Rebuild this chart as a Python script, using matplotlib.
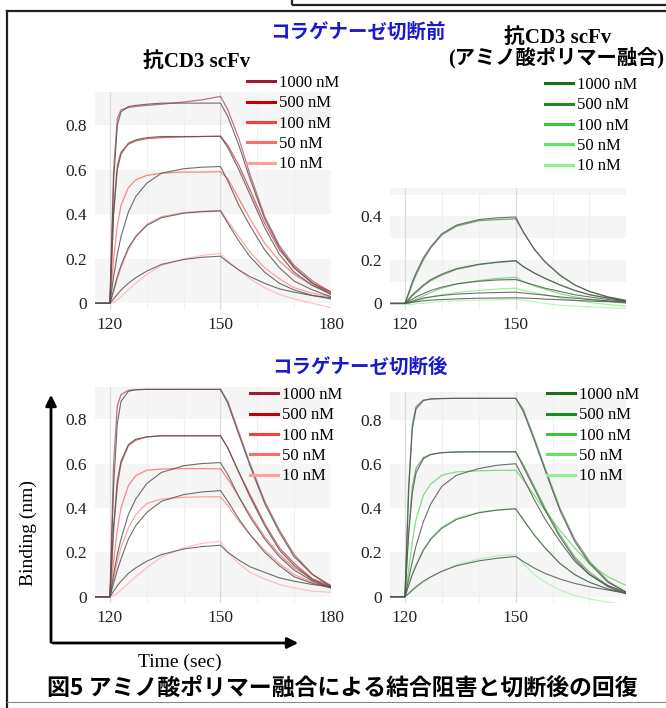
import matplotlib
matplotlib.use('Agg')
import matplotlib.pyplot as plt
from matplotlib.lines import Line2D
from matplotlib.patches import FancyArrowPatch, Rectangle

# 時間軸 (sec)
times = [116, 120, 121, 122, 123, 125, 127, 130, 134, 140, 145, 150,
         152, 155, 158, 162, 166, 170, 175, 180]
conc_labels = ['1000 nM', '500 nM', '100 nM', '50 nM', '10 nM']
red_colors = ['#9b1b30', '#c00000', '#ff3b3b', '#ff6b6b', '#ff9e9e']
green_colors = ['#1b6e1b', '#1f8a1f', '#38c738', '#5ee85e', '#8ff08f']

# コラゲナーゼ切断前 / 抗CD3 scFv
before_scfv_obs = [
    [0, 0, 0.60, 0.83, 0.87, 0.88, 0.885, 0.89, 0.895, 0.905, 0.915, 0.93, 0.87, 0.74, 0.58, 0.39, 0.26, 0.17, 0.10, 0.05],
    [0, 0, 0.42, 0.62, 0.68, 0.715, 0.73, 0.74, 0.745, 0.748, 0.75, 0.752, 0.71, 0.62, 0.51, 0.36, 0.24, 0.16, 0.09, 0.05],
    [0, 0, 0.20, 0.35, 0.44, 0.52, 0.555, 0.575, 0.585, 0.59, 0.59, 0.592, 0.56, 0.47, 0.38, 0.27, 0.19, 0.13, 0.08, 0.05],
    [0, 0, 0.05, 0.11, 0.16, 0.24, 0.30, 0.355, 0.39, 0.408, 0.414, 0.418, 0.37, 0.30, 0.23, 0.16, 0.11, 0.07, 0.045, 0.03],
    [0, 0, 0.005, 0.015, 0.03, 0.06, 0.09, 0.13, 0.17, 0.20, 0.215, 0.225, 0.19, 0.15, 0.11, 0.07, 0.04, 0.02, 0.0, -0.02],
]
before_scfv_fit = [
    [0, 0, 0.55, 0.80, 0.86, 0.885, 0.89, 0.895, 0.90, 0.90, 0.90, 0.90, 0.84, 0.71, 0.56, 0.38, 0.25, 0.16, 0.09, 0.04],
    [0, 0, 0.40, 0.60, 0.67, 0.72, 0.735, 0.745, 0.75, 0.75, 0.75, 0.75, 0.70, 0.60, 0.49, 0.34, 0.22, 0.14, 0.08, 0.04],
    [0, 0, 0.12, 0.22, 0.30, 0.41, 0.48, 0.54, 0.585, 0.605, 0.612, 0.615, 0.55, 0.44, 0.35, 0.24, 0.16, 0.10, 0.06, 0.03],
    [0, 0, 0.06, 0.12, 0.17, 0.25, 0.30, 0.35, 0.385, 0.405, 0.412, 0.415, 0.36, 0.28, 0.21, 0.14, 0.09, 0.06, 0.035, 0.02],
    [0, 0, 0.02, 0.04, 0.06, 0.09, 0.115, 0.145, 0.175, 0.197, 0.207, 0.212, 0.185, 0.15, 0.12, 0.09, 0.065, 0.05, 0.035, 0.025],
]

# コラゲナーゼ切断前 / アミノ酸ポリマー融合
before_fused_obs = [
    [0, 0, 0.04, 0.09, 0.13, 0.20, 0.255, 0.315, 0.355, 0.38, 0.385, 0.388, 0.33, 0.25, 0.19, 0.13, 0.085, 0.055, 0.03, 0.015],
    [0, 0, 0.015, 0.035, 0.05, 0.08, 0.105, 0.13, 0.157, 0.178, 0.188, 0.195, 0.17, 0.14, 0.115, 0.085, 0.06, 0.04, 0.025, 0.01],
    [0, 0, 0.005, 0.01, 0.02, 0.035, 0.05, 0.07, 0.09, 0.105, 0.115, 0.12, 0.10, 0.08, 0.065, 0.045, 0.03, 0.02, 0.01, 0.0],
    [0, 0, 0.0, 0.005, 0.01, 0.02, 0.03, 0.04, 0.05, 0.06, 0.066, 0.07, 0.06, 0.05, 0.04, 0.025, 0.015, 0.005, -0.005, -0.012],
    [0, 0, -0.005, -0.005, 0.0, 0.0, 0.005, 0.01, 0.012, 0.015, 0.017, 0.02, 0.015, 0.008, 0.0, -0.008, -0.012, -0.016, -0.02, -0.022],
]
before_fused_fit = [
    [0, 0, 0.05, 0.10, 0.14, 0.21, 0.26, 0.32, 0.36, 0.385, 0.393, 0.397, 0.33, 0.25, 0.19, 0.13, 0.085, 0.055, 0.03, 0.012],
    [0, 0, 0.02, 0.04, 0.055, 0.085, 0.11, 0.135, 0.16, 0.18, 0.19, 0.197, 0.17, 0.14, 0.115, 0.085, 0.06, 0.04, 0.025, 0.01],
    [0, 0, 0.01, 0.02, 0.03, 0.045, 0.06, 0.075, 0.09, 0.102, 0.108, 0.11, 0.10, 0.085, 0.07, 0.055, 0.04, 0.03, 0.018, 0.008],
    [0, 0, 0.005, 0.01, 0.015, 0.025, 0.03, 0.037, 0.043, 0.048, 0.05, 0.052, 0.048, 0.043, 0.038, 0.03, 0.024, 0.018, 0.012, 0.006],
    [0, 0, 0.002, 0.005, 0.008, 0.012, 0.015, 0.018, 0.021, 0.024, 0.025, 0.026, 0.025, 0.023, 0.02, 0.017, 0.014, 0.011, 0.008, 0.005],
]

# コラゲナーゼ切断後 / 抗CD3 scFv
after_scfv_obs = [
    [0, 0, 0.60, 0.86, 0.91, 0.93, 0.933, 0.934, 0.934, 0.934, 0.934, 0.934, 0.88, 0.74, 0.60, 0.43, 0.30, 0.19, 0.10, 0.05],
    [0, 0, 0.30, 0.50, 0.60, 0.68, 0.705, 0.72, 0.725, 0.725, 0.725, 0.725, 0.67, 0.56, 0.46, 0.33, 0.22, 0.15, 0.08, 0.045],
    [0, 0, 0.16, 0.30, 0.40, 0.50, 0.545, 0.57, 0.575, 0.577, 0.577, 0.576, 0.53, 0.45, 0.37, 0.27, 0.19, 0.13, 0.08, 0.05],
    [0, 0, 0.08, 0.16, 0.22, 0.31, 0.37, 0.42, 0.44, 0.448, 0.45, 0.45, 0.41, 0.34, 0.28, 0.21, 0.15, 0.10, 0.065, 0.04],
    [0, 0, 0.005, 0.015, 0.03, 0.06, 0.09, 0.13, 0.18, 0.22, 0.24, 0.25, 0.20, 0.15, 0.11, 0.08, 0.055, 0.04, 0.025, 0.02],
]
after_scfv_fit = [
    [0, 0, 0.50, 0.78, 0.88, 0.925, 0.932, 0.934, 0.934, 0.934, 0.934, 0.934, 0.87, 0.73, 0.59, 0.42, 0.29, 0.18, 0.10, 0.045],
    [0, 0, 0.32, 0.52, 0.61, 0.685, 0.71, 0.72, 0.725, 0.725, 0.725, 0.725, 0.67, 0.56, 0.45, 0.32, 0.21, 0.14, 0.075, 0.04],
    [0, 0, 0.10, 0.19, 0.26, 0.37, 0.44, 0.51, 0.56, 0.59, 0.60, 0.604, 0.55, 0.45, 0.36, 0.26, 0.18, 0.12, 0.07, 0.04],
    [0, 0, 0.06, 0.12, 0.17, 0.26, 0.32, 0.38, 0.43, 0.46, 0.472, 0.478, 0.43, 0.35, 0.28, 0.20, 0.14, 0.09, 0.06, 0.04],
    [0, 0, 0.025, 0.05, 0.07, 0.105, 0.13, 0.16, 0.19, 0.215, 0.226, 0.232, 0.20, 0.165, 0.135, 0.11, 0.085, 0.07, 0.055, 0.045],
]

# コラゲナーゼ切断後 / アミノ酸ポリマー融合
after_fused_obs = [
    [0, 0, 0.50, 0.78, 0.86, 0.89, 0.895, 0.897, 0.898, 0.898, 0.898, 0.898, 0.85, 0.72, 0.58, 0.40, 0.26, 0.16, 0.07, 0.02],
    [0, 0, 0.30, 0.50, 0.58, 0.63, 0.645, 0.652, 0.655, 0.656, 0.656, 0.656, 0.60, 0.50, 0.40, 0.28, 0.18, 0.11, 0.05, 0.015],
    [0, 0, 0.12, 0.25, 0.35, 0.46, 0.51, 0.55, 0.565, 0.57, 0.572, 0.572, 0.53, 0.46, 0.39, 0.30, 0.22, 0.15, 0.09, 0.05],
    [0, 0, 0.055, 0.105, 0.145, 0.215, 0.265, 0.315, 0.355, 0.382, 0.393, 0.398, 0.35, 0.28, 0.22, 0.15, 0.10, 0.065, 0.035, 0.015],
    [0, 0, 0.01, 0.025, 0.04, 0.065, 0.088, 0.115, 0.145, 0.17, 0.185, 0.19, 0.15, 0.10, 0.065, 0.03, 0.005, -0.01, -0.025, -0.035],
]
after_fused_fit = [
    [0, 0, 0.48, 0.76, 0.85, 0.888, 0.895, 0.897, 0.898, 0.898, 0.898, 0.898, 0.84, 0.71, 0.57, 0.39, 0.25, 0.15, 0.065, 0.02],
    [0, 0, 0.28, 0.47, 0.56, 0.625, 0.643, 0.652, 0.655, 0.656, 0.656, 0.656, 0.59, 0.49, 0.39, 0.27, 0.17, 0.10, 0.045, 0.012],
    [0, 0, 0.08, 0.16, 0.23, 0.34, 0.42, 0.50, 0.55, 0.58, 0.595, 0.602, 0.54, 0.44, 0.35, 0.25, 0.16, 0.10, 0.05, 0.02],
    [0, 0, 0.05, 0.10, 0.14, 0.21, 0.26, 0.31, 0.35, 0.38, 0.392, 0.398, 0.35, 0.28, 0.22, 0.15, 0.10, 0.065, 0.035, 0.015],
    [0, 0, 0.015, 0.03, 0.045, 0.07, 0.09, 0.115, 0.14, 0.162, 0.174, 0.182, 0.16, 0.13, 0.105, 0.08, 0.06, 0.045, 0.03, 0.015],
]

W, H = 666, 708
SERIF = ['Liberation Serif', 'Noto Sans CJK JP']
GOTHIC = ['Noto Sans CJK JP', 'DejaVu Sans']


def fx(px):
    return px / W


def fy(py):
    return 1 - py / H


def box(left, top, right, bottom):
    return [fx(left), fy(bottom), fx(right) - fx(left), fy(top) - fy(bottom)]


fig = plt.figure(figsize=(W / 100, H / 100), dpi=100)


def panel(rect, obs, fit, colors, ylim, yticks, ylabels, xticks, bands, legend_xy):
    ax = fig.add_axes(rect)
    for b0, b1 in bands:
        ax.axhspan(b0, b1, color='#f5f5f5', lw=0, zorder=0)
    for t in [130, 140, 160, 170]:
        ax.axvline(t, color='#f0f0f0', lw=0.8, zorder=0.5)
    for t in [120, 150]:
        ax.axvline(t, color='#dcdcdc', lw=0.9, zorder=0.5)
    for vals, c in zip(obs, colors):
        ax.plot(times, vals, color=c, lw=0.9, alpha=0.6, zorder=2)
    for vals in fit:
        ax.plot(times, vals, color='#555555', lw=0.8, alpha=0.85, zorder=3)
    ax.set_xlim(116, 180)
    ax.set_ylim(*ylim)
    ax.set_xticks(xticks)
    ax.set_xticklabels([str(t) for t in xticks])
    ax.set_yticks(yticks)
    ax.set_yticklabels(ylabels)
    ax.tick_params(length=0, labelsize=12.5, colors='#222222')
    ax.tick_params(axis='y', pad=6)
    ax.tick_params(axis='x', pad=5)
    for lab in ax.get_xticklabels() + ax.get_yticklabels():
        lab.set_family(SERIF)
    for s in ax.spines.values():
        s.set_visible(False)
    ax.set_facecolor('none')
    handles = [Line2D([0], [0], color=c, lw=2.2) for c in colors]
    fig.legend(handles, conc_labels, loc='upper left',
               bbox_to_anchor=legend_xy, bbox_transform=fig.transFigure,
               frameon=False, borderpad=0, borderaxespad=0,
               handlelength=1.7, handletextpad=0.2, labelspacing=0.26,
               prop={'family': SERIF, 'size': 12})
    return ax


lbl_full = ['0', '0.2', '0.4', '0.6', '0.8']
panel(box(95.2, 92, 331, 310), before_scfv_obs, before_scfv_fit, red_colors,
      (-0.03, 0.95), [0, 0.2, 0.4, 0.6, 0.8], lbl_full, [120, 150, 180],
      [(0, 0.2), (0.4, 0.6), (0.8, 1.0)], (fx(247), fy(75)))
panel(box(390.2, 188, 626.4, 310), before_fused_obs, before_fused_fit, green_colors,
      (-0.03, 0.53), [0, 0.2, 0.4], ['0', '0.2', '0.4'], [120, 150],
      [(0.1, 0.2), (0.3, 0.4), (0.5, 0.6)], (fx(545), fy(77)))
panel(box(95.2, 386.7, 331, 603.4), after_scfv_obs, after_scfv_fit, red_colors,
      (-0.03, 0.946), [0, 0.2, 0.4, 0.6, 0.8], lbl_full, [120, 150, 180],
      [(0, 0.2), (0.4, 0.6), (0.8, 1.0)], (fx(250), fy(387)))
panel(box(390.2, 391.7, 626.4, 603.3), after_fused_obs, after_fused_fit, green_colors,
      (-0.03, 0.928), [0, 0.2, 0.4, 0.6, 0.8], lbl_full, [120, 150],
      [(0, 0.2), (0.4, 0.6), (0.8, 1.0)], (fx(547), fy(387)))

# 見出し
fig.text(fx(358), fy(32), 'コラゲナーゼ切断前', color='#1a1acd', fontsize=14,
         fontweight='bold', family=GOTHIC, ha='center', va='center')
fig.text(fx(360), fy(367), 'コラゲナーゼ切断後', color='#1a1acd', fontsize=14,
         fontweight='bold', family=GOTHIC, ha='center', va='center')
fig.text(fx(197), fy(62), '抗CD3 scFv', fontsize=15, fontweight='bold',
         family=SERIF, ha='center', va='center')
fig.text(fx(558), fy(38), '抗CD3 scFv', fontsize=15, fontweight='bold',
         family=SERIF, ha='center', va='center')
fig.text(fx(664), fy(58), '(アミノ酸ポリマー融合)', fontsize=14.6, fontweight='bold',
         family=SERIF, ha='right', va='center')

# 軸の矢印とラベル
fig.add_artist(FancyArrowPatch((fx(51), fy(645)), (fx(51), fy(392)),
                               transform=fig.transFigure, arrowstyle='-|>',
                               mutation_scale=16, lw=2, color='black'))
fig.add_artist(FancyArrowPatch((fx(50), fy(643)), (fx(301), fy(643)),
                               transform=fig.transFigure, arrowstyle='-|>',
                               mutation_scale=16, lw=2, color='black'))
fig.text(fx(28), fy(533), 'Binding (nm)', rotation=90, fontsize=14,
         family=SERIF, ha='center', va='center')
fig.text(fx(180), fy(662), 'Time (sec)', fontsize=14, family=SERIF,
         ha='center', va='center')

fig.text(fx(342), fy(688), '図5 アミノ酸ポリマー融合による結合阻害と切断後の回復',
         fontsize=16.5, fontweight='bold', family=GOTHIC, ha='center', va='center')

# 枠線
tf = fig.transFigure
fig.add_artist(Line2D([fx(7), fx(7)], [fy(11), fy(708)], color='#222222', lw=1.6, transform=tf))
fig.add_artist(Line2D([fx(7), fx(666)], [fy(11), fy(11)], color='#222222', lw=1.6, transform=tf))
fig.add_artist(Line2D([fx(7), fx(666)], [fy(702), fy(702)], color='#888888', lw=0.8, transform=tf))
fig.add_artist(Rectangle((fx(292), fy(4.5)), fx(700) - fx(292), fy(-20) - fy(4.5),
                         transform=tf, fill=False, edgecolor='#222222', lw=1.6))

fig.savefig('out.png', dpi=100)
